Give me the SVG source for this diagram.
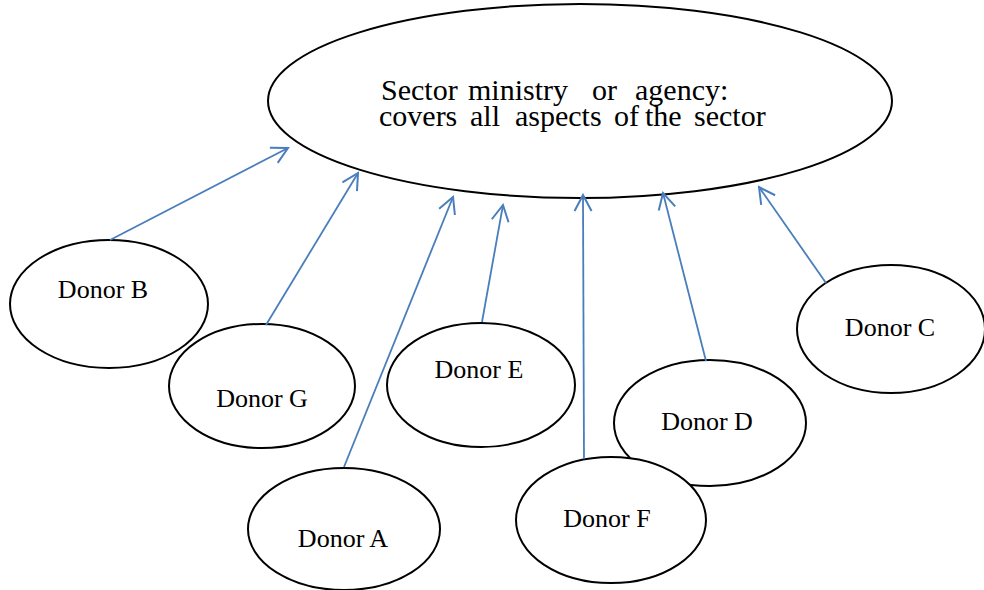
<svg xmlns="http://www.w3.org/2000/svg" width="984" height="590" viewBox="0 0 984 590">
  <style>
    .shape { fill: #ffffff; stroke: #000000; stroke-width: 2; }
    .label { font-family: "Liberation Serif", "Times New Roman", serif; font-size: 26px; fill: #000000; text-anchor: middle; }
    .title { font-family: "Liberation Serif", "Times New Roman", serif; font-size: 30px; fill: #000000; }
    .link { stroke: #4a7ebb; stroke-width: 1.8; fill: none; marker-end: url(#openArrow); }
  </style>
  <defs>
    <marker id="openArrow" markerUnits="userSpaceOnUse" viewBox="-20 -12 22 24" markerWidth="22" markerHeight="24" refX="0" refY="0" orient="auto">
      <path d="M-16,-8.5 L0,0 L-16,8.5" fill="none" stroke="#4a7ebb" stroke-width="2"/>
    </marker>
  </defs>

  <rect width="984" height="590" fill="#ffffff"/>

  <g id="ministry">
    <ellipse class="shape" cx="580" cy="101" rx="312" ry="97"/>
    <!-- words placed individually to keep the wide word gaps -->
    <text class="title" y="100"><tspan x="381">Sector</tspan><tspan x="468">ministry</tspan><tspan x="592">or</tspan><tspan x="635">agency:</tspan></text>
    <text class="title" y="126"><tspan x="379">covers</tspan><tspan x="470">all</tspan><tspan x="515">aspects</tspan><tspan x="614">of</tspan><tspan x="645">the</tspan><tspan x="694">sector</tspan></text>
  </g>

  <g id="donor-b">
    <ellipse class="shape" cx="109" cy="304" rx="99" ry="64"/>
    <text class="label" x="103" y="298">Donor B</text>
  </g>
  <g id="donor-g">
    <ellipse class="shape" cx="262" cy="386" rx="93" ry="62"/>
    <text class="label" x="262" y="407">Donor G</text>
  </g>
  <g id="donor-a">
    <ellipse class="shape" cx="344" cy="529" rx="96" ry="61"/>
    <text class="label" x="343" y="547">Donor A</text>
  </g>
  <g id="donor-e">
    <ellipse class="shape" cx="481" cy="385" rx="94" ry="62"/>
    <text class="label" x="479" y="378">Donor E</text>
  </g>
  <g id="donor-d">
    <ellipse class="shape" cx="710" cy="423" rx="96" ry="63"/>
    <text class="label" x="707" y="430">Donor D</text>
  </g>
  <g id="donor-f">
    <ellipse class="shape" cx="611" cy="520" rx="95" ry="63"/>
    <text class="label" x="607" y="527">Donor F</text>
  </g>
  <g id="donor-c">
    <ellipse class="shape" cx="891" cy="329" rx="94" ry="64"/>
    <text class="label" x="890" y="336">Donor C</text>
  </g>

  <g id="connectors">
    <line class="link" x1="110" y1="240" x2="288" y2="148"/>
    <line class="link" x1="266" y1="325" x2="358" y2="173"/>
    <line class="link" x1="344" y1="467" x2="453" y2="197"/>
    <line class="link" x1="482" y1="322" x2="503" y2="205"/>
    <line class="link" x1="584" y1="459" x2="583" y2="195"/>
    <line class="link" x1="706" y1="361" x2="663" y2="193"/>
    <line class="link" x1="826" y1="283" x2="759" y2="187"/>
  </g>
</svg>
